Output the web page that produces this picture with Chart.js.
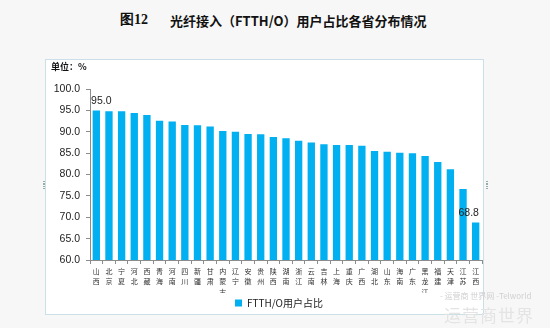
<!DOCTYPE html>
<html>
<head>
<meta charset="utf-8">
<script src="https://cdn.jsdelivr.net/npm/chart.js@4/dist/chart.umd.min.js"></script>
<style>
  html, body { margin: 0; padding: 0; }
  body { width: 550px; height: 328px; background: #f7f7f7; position: relative; overflow: hidden;
         font-family: "Noto Sans CJK SC", sans-serif; }
  #title { position: absolute; top: 11px; left: 0; width: 550px; font-size: 13px; font-weight: bold;
           color: #111; white-space: pre; }
  #title .num { position: absolute; left: 120px; font-family: "Liberation Serif", serif; font-size: 14px; }
  #title .txt { position: absolute; left: 170px; }
  #box { position: absolute; left: 45px; top: 59px; width: 437px; height: 254px; background: #fff;
         border: 1px solid #c9e0e6; }
  #unit { position: absolute; left: 5px; top: 0px; font-size: 9px; font-weight: bold; color: #111; }
  canvas { position: absolute; left: 0; top: 0; }
  .handle { position: absolute; width: 2px; height: 10px;
            background: repeating-linear-gradient(#9aa 0 1px, transparent 1px 2.5px); }
  #wm1 { position: absolute; left: 440px; top: 290px; font-size: 8px; color: #d0d0d0; }
  #wm2 { position: absolute; left: 444px; top: 302px; font-size: 17px; color: #e4e4e4; letter-spacing: 1px; }
</style>
</head>
<body>
<div id="title"><span class="num">图12</span><span class="txt">光纤接入（FTTH/O）用户占比各省分布情况</span></div>
<div id="box">
  <canvas id="c" width="437" height="258"></canvas>
  <div id="unit">单位：%</div>
</div>
<div class="handle" style="left:43px; top:181px;"></div>
<div class="handle" style="left:486px; top:181px;"></div>
<div id="wm1">- 运营商 世界网 -Telworld</div>
<div id="wm2">运营商世界网</div>
<script>
// Provinces (each label is split into its characters so they stack vertically)
const provinces = ['山西','北京','宁夏','河北','西藏','青海','河南','四川','新疆','甘肃','内蒙古',
  '辽宁','安徽','贵州','陕西','湖南','浙江','云南','吉林','上海','重庆','广西','湖北','山东',
  '海南','广东','黑龙江','福建','天津','江苏','江西'];
// FTTH/O share of broadband users, %
const ftthShare = [95.0, 94.8, 94.8, 94.4, 93.9, 92.6, 92.4, 91.6, 91.5, 91.2, 90.2,
  90.0, 89.5, 89.4, 88.8, 88.5, 87.9, 87.5, 87.1, 86.9, 86.9, 86.7, 85.5, 85.3,
  85.1, 85.0, 84.3, 82.9, 81.2, 76.6, 68.8];
const yMin = 60, yMax = 100, yStep = 5;
const seriesName = 'FTTH/O用户占比';
const barColor = '#00b0f0';

// Value labels on the highest and lowest bars
const endLabels = {
  id: 'endLabels',
  afterDatasetsDraw(chart) {
    const ctx = chart.ctx;
    const meta = chart.getDatasetMeta(0);
    const last = ftthShare.length - 1;
    ctx.save();
    ctx.font = '10.5px "Liberation Sans", sans-serif';
    ctx.fillStyle = '#222';
    ctx.textBaseline = 'alphabetic';
    ctx.textAlign = 'center';
    [[0, 5], [last, -7]].forEach(([i, dx]) => {
      const el = meta.data[i];
      ctx.fillText(ftthShare[i].toFixed(1), el.x + dx, el.y - 6);
    });
    ctx.restore();
  }
};

// Centre the legend under the plot area rather than the whole canvas
const legendShift = {
  id: 'legendShift',
  afterLayout(chart) {
    const lg = chart.legend;
    if (lg) { lg.left += 15; lg.right += 15; }
  }
};

new Chart(document.getElementById('c'), {
  type: 'bar',
  data: {
    labels: provinces.map(p => p.split('')),
    datasets: [{
      label: seriesName,
      data: ftthShare,
      backgroundColor: barColor,
      borderWidth: 0,
      categoryPercentage: 1.0,
      barPercentage: 0.58
    }]
  },
  options: {
    responsive: false,
    animation: false,
    devicePixelRatio: 1,
    layout: { padding: { top: 29, right: 1, left: 0, bottom: 0 } },
    plugins: {
      tooltip: { enabled: false },
      legend: {
        position: 'bottom',
        labels: {
          boxWidth: 7, boxHeight: 7, padding: 5,
          color: '#222',
          font: { size: 10, family: '"Noto Sans CJK SC", sans-serif' }
        }
      }
    },
    scales: {
      x: {
        afterFit(scale) { scale.height = 33; },
        border: { display: true, color: '#8c8c8c' },
        grid: { offset: true, drawOnChartArea: false, drawTicks: true, tickLength: 4, color: '#8c8c8c' },
        ticks: {
          autoSkip: false, maxRotation: 0, minRotation: 0, padding: 2,
          color: '#333',
          font: { size: 7, family: '"Noto Sans CJK SC", sans-serif', lineHeight: '10.5px' }
        }
      },
      y: {
        min: yMin, max: yMax,
        afterFit(scale) { scale.width = 44; },
        border: { display: true, color: '#8c8c8c' },
        grid: { drawOnChartArea: false, drawTicks: true, tickLength: 4, color: '#8c8c8c' },
        ticks: {
          stepSize: yStep, padding: 6,
          color: '#222',
          font: { size: 10.5, family: '"Liberation Sans", sans-serif' },
          callback: v => Number(v).toFixed(1)
        }
      }
    }
  },
  plugins: [endLabels, legendShift]
});
</script>
</body>
</html>
